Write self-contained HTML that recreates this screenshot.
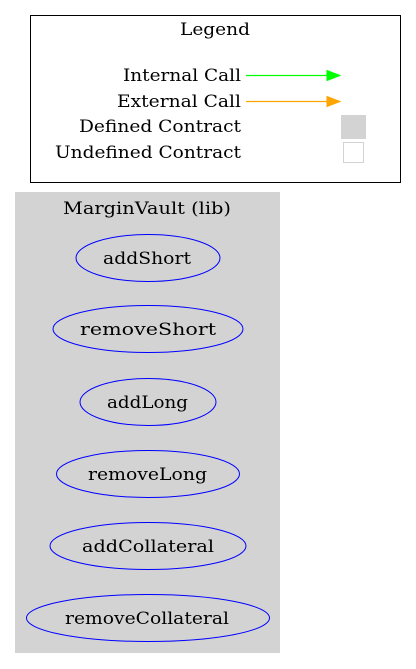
<!DOCTYPE html>
<html><head><meta charset="utf-8"><style>html,body{margin:0;padding:0;background:#fff}svg{display:block}</style></head>
<body>
<svg width="416" height="669" viewBox="0 0 416 669" xmlns="http://www.w3.org/2000/svg" font-family="DejaVu Serif, serif" font-size="16.5">
<rect x="30.5" y="15.5" width="370" height="167" fill="#fff" stroke="#000"/>
<text x="180" y="35" textLength="70" lengthAdjust="spacingAndGlyphs">Legend</text>
<text x="123" y="81" textLength="118" lengthAdjust="spacingAndGlyphs">Internal Call</text>
<text x="117" y="107" textLength="124" lengthAdjust="spacingAndGlyphs">External Call</text>
<text x="79" y="132" textLength="162" lengthAdjust="spacingAndGlyphs">Defined Contract</text>
<text x="55" y="158" textLength="186" lengthAdjust="spacingAndGlyphs">Undefined Contract</text>
<line x1="246" y1="75.5" x2="328" y2="75.5" stroke="#00ff00" stroke-width="1.3"/>
<polygon points="327,70.5 340,75.5 327,80.5" fill="#0f0" stroke="#0f0"/>
<line x1="246" y1="101.5" x2="328" y2="101.5" stroke="#ffa500" stroke-width="1.3"/>
<polygon points="327,96.5 340,101.5 327,106.5" fill="orange" stroke="orange"/>
<rect x="341" y="115" width="25" height="24" fill="#d3d3d3"/>
<rect x="343.5" y="142.5" width="20" height="20" fill="#fff" stroke="#d3d3d3"/>
<rect x="15" y="192" width="265" height="461" fill="#d3d3d3"/>
<text x="63" y="214" textLength="168" lengthAdjust="spacingAndGlyphs">MarginVault  (lib)</text>
<g fill="none" stroke="#00f">
<ellipse cx="148" cy="258" rx="72" ry="23.5"/>
<ellipse cx="148" cy="329" rx="95" ry="23.5"/>
<ellipse cx="148" cy="402" rx="68" ry="23.5"/>
<ellipse cx="148" cy="474" rx="91.5" ry="23.5"/>
<ellipse cx="148" cy="546" rx="98" ry="23.5"/>
<ellipse cx="148" cy="618" rx="121.5" ry="23.5"/>
</g>
<text x="103" y="264" textLength="88" lengthAdjust="spacingAndGlyphs">addShort</text>
<text x="80" y="335" textLength="136" lengthAdjust="spacingAndGlyphs">removeShort</text>
<text x="107" y="408" textLength="81" lengthAdjust="spacingAndGlyphs">addLong</text>
<text x="88" y="480" textLength="119" lengthAdjust="spacingAndGlyphs">removeLong</text>
<text x="82" y="552" textLength="132" lengthAdjust="spacingAndGlyphs">addCollateral</text>
<text x="65" y="624" textLength="164" lengthAdjust="spacingAndGlyphs">removeCollateral</text>
</svg>
</body></html>
